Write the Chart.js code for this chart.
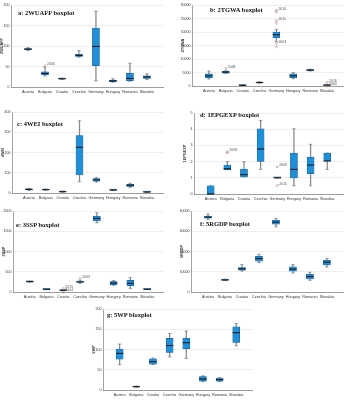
<!DOCTYPE html>
<html>
<head>
<meta charset="utf-8">
<script src="https://cdn.jsdelivr.net/npm/chart.js@4.4.0/dist/chart.umd.min.js"></script>
<style>
body { margin: 0; background: #fff; width: 349px; height: 400px; position: relative; overflow: hidden; }
canvas { position: absolute; }
.t { position: absolute; font: bold 6.5px "Liberation Serif"; line-height: 1; white-space: nowrap; color: #111; }
</style>
</head>
<body>
<canvas id="ca" width="169" height="96" style="left:0;top:0"></canvas>
<canvas id="cb" width="168" height="95" style="left:181px;top:0"></canvas>
<canvas id="cc" width="168" height="95" style="left:1px;top:107px"></canvas>
<canvas id="cd" width="166" height="95" style="left:183px;top:108px"></canvas>
<canvas id="ce" width="167" height="95" style="left:2px;top:206px"></canvas>
<canvas id="cf" width="169" height="95" style="left:180px;top:206px"></canvas>
<canvas id="cg" width="166" height="95" style="left:92px;top:304px"></canvas>

<div class="t" style="left:18px;top:10px">a: 2WUAFF boxplot</div>
<div class="t" style="left:210px;top:7px">b: 2TGWA boxplot</div>
<div class="t" style="left:17px;top:121px">c: 4WEI boxplot</div>
<div class="t" style="left:200px;top:112px">d: 1EPGEXP boxplot</div>
<div class="t" style="left:16px;top:222px">e: 3SSP boxplot</div>
<div class="t" style="left:200px;top:221px">f: 5RGDP boxplot</div>
<div class="t" style="left:107px;top:312px">g: 5WP bloxplot</div>

<script>
// boxes are [min, q1, median, q3, max], outliers are [country index, value, label]
var countries = ['Austria', 'Bulgaria', 'Croatia', 'Czechia', 'Germany', 'Hungary', 'Romania', 'Slovakia'];

var wuaffTicks = [0, 50, 100, 150, 200];
var wuaffBox = [
  [89, 91, 92.5, 94, 96],
  [27, 30, 33, 37, 48],
  [18.5, 19.5, 20, 21, 21.5],
  [73, 74.5, 77, 80, 89],
  [15, 52, 99, 144, 185],
  [11.5, 13, 15, 17, 20],
  [14, 15.5, 21, 33.5, 58],
  [18, 21, 24.5, 27, 32]
];
var wuaffOut = [[1, 52, '2006']];

var tgwaTicks = [0, 5000, 10000, 15000, 20000, 25000, 30000];
var tgwaBox = [
  [2600, 3100, 3800, 4500, 5500],
  [4700, 4800, 5150, 5400, 5650],
  [150, 200, 250, 300, 350],
  [1050, 1100, 1300, 1450, 1550],
  [16500, 17900, 19000, 20000, 21000],
  [2700, 3100, 3800, 4500, 5000],
  [5550, 5650, 5900, 6100, 6200],
  [150, 200, 300, 450, 550]
];
var tgwaOut = [[1, 6500, '2008'], [4, 28100, '2016'], [4, 27500, ''], [4, 24200, '2011'], [4, 23200, ''],
  [4, 15850, '2003'], [4, 14600, ''], [7, 1300, '2016'], [7, 0, '2004']];

var weiTicks = [0, 100, 200, 300, 400];
var weiBox = [
  [13, 15, 18, 21, 23],
  [14, 15, 16.5, 18, 19],
  [4, 5, 6.5, 8, 9],
  [56, 89, 226, 284, 357],
  [54, 58, 64, 71, 76],
  [12, 13.5, 15, 16.5, 18],
  [28, 33, 38, 43, 48],
  [3, 4, 5, 6, 7]
];
var weiOut = [];

var epgexpTicks = [0, 1, 2, 3, 4, 5];
var epgexpBox = [
  [0, 0, 0, 0.5, 0.5],
  [1.5, 1.5, 1.56, 1.79, 2.0],
  [1.05, 1.05, 1.2, 1.54, 2.0],
  [1.52, 2.02, 2.78, 4.03, 4.55],
  [1, 1, 1, 1, 1],
  [0.51, 1.0, 1.52, 2.53, 4.03],
  [0.51, 1.25, 1.79, 2.28, 3.07],
  [1.52, 2.04, 2.04, 2.53, 2.53]
];
var epgexpOut = [[1, 2.6, '2008'], [1, 2.55, ''], [4, 1.67, '2009'], [4, 0.53, '2015']];

var sspTicks = [0, 500, 1000, 1500, 2000];
var sspBox = [
  [245, 250, 256, 262, 267],
  [60, 63, 66, 69, 72],
  [32, 37, 41, 45, 50],
  [215, 240, 248, 256, 285],
  [1711, 1760, 1818, 1876, 1958],
  [165, 182, 223, 256, 285],
  [91, 157, 215, 289, 355],
  [60, 63, 66, 69, 72]
];
var sspOut = [[2, 85, '2015'], [2, 0, '2004'], [3, 330, '2003']];

var rgdpTicks = [0, 10000, 20000, 30000, 40000];
var rgdpBox = [
  [35870, 36530, 37000, 37520, 38510],
  [5620, 5800, 5950, 6116, 6400],
  [10413, 10744, 11400, 12066, 13550],
  [14545, 15206, 16530, 17686, 18680],
  [32230, 33554, 34545, 35537, 36360],
  [9420, 10248, 11300, 12397, 13550],
  [5785, 6446, 7600, 8760, 9750],
  [12400, 13390, 14710, 15700, 16530]
];
var rgdpOut = [];

var wpTicks = [0, 50, 100, 150, 200];
var wpBox = [
  [62.5, 76, 90.5, 101, 113.6],
  [7, 7.5, 8.2, 9, 9.5],
  [63, 64, 70, 77, 79],
  [82, 93, 110, 127.6, 140],
  [78, 102, 117, 127.6, 145.7],
  [20.5, 22, 27, 33, 35],
  [21, 22, 25.5, 29.6, 30.5],
  [109.5, 117.7, 141.6, 156, 164.6]
];
var wpOut = [];

Chart.defaults.font.family = 'Liberation Sans';
Chart.defaults.color = '#333';

// small year labels next to the outlier points
var outlierLabels = {
  id: 'outlierLabels',
  afterDatasetsDraw: function(chart) {
    var meta = chart.getDatasetMeta(0);
    var ds = chart.data.datasets[0];
    var ctx = chart.ctx;
    ctx.save();
    ctx.font = '3.5px "Liberation Sans"';
    ctx.fillStyle = '#555';
    ctx.textBaseline = 'middle';
    meta.data.forEach(function(pt, i) {
      if (ds.labels[i]) ctx.fillText(ds.labels[i], pt.x + 2, pt.y - 1.5);
    });
    ctx.restore();
  }
};

function boxplot(id, yName, ticks, box, out) {
  var whisk = box.map(function(b, i) { return {x: i, y: [b[0], b[4]]}; });
  var caps = [];
  box.forEach(function(b, i) {
    caps.push({x: i, y: b[0]});
    caps.push({x: i, y: b[4]});
  });
  var boxes = box.map(function(b, i) { return {x: i, y: [b[1], b[3]]}; });
  var medians = box.map(function(b, i) { return {x: i, y: b[2]}; });
  var outliers = out.map(function(o) { return {x: o[0], y: o[1]}; });

  new Chart(document.getElementById(id), {
    type: 'bar',
    data: {
      datasets: [
        {
          type: 'line', data: outliers, labels: out.map(function(o) { return o[2]; }),
          showLine: false, pointStyle: 'circle', pointRadius: 1, pointBorderWidth: 0.5,
          pointBorderColor: '#a07070', pointBackgroundColor: 'rgba(0,0,0,0)', order: 0, clip: false
        },
        {
          type: 'line', data: medians, showLine: false, pointStyle: 'line',
          pointRadius: 3.6, pointBorderWidth: 1.1, pointBorderColor: '#151a22', order: 1, clip: false
        },
        {
          type: 'bar', data: boxes, grouped: false, barThickness: 7,
          backgroundColor: '#1f8fd8', borderColor: '#1d4f78', borderWidth: 0.5,
          borderSkipped: false, minBarLength: 1, order: 2
        },
        {
          type: 'line', data: caps, showLine: false, pointStyle: 'line',
          pointRadius: 1.8, pointBorderWidth: 0.6, pointBorderColor: '#777', order: 3, clip: false
        },
        {
          type: 'bar', data: whisk, grouped: false, barThickness: 0.6,
          backgroundColor: '#888', order: 4
        }
      ]
    },
    options: {
      responsive: false,
      animation: false,
      layout: { padding: { top: 5, right: 1 } },
      plugins: { legend: { display: false }, tooltip: { enabled: false } },
      scales: {
        x: {
          type: 'linear', min: -1, max: 8, offset: false,
          afterFit: function(s) { s.height = 9; },
          afterBuildTicks: function(s) {
            s.ticks = countries.map(function(c, i) { return {value: i}; });
          },
          ticks: {
            autoSkip: false, maxRotation: 0, padding: 2.5,
            font: { size: 3.8 },
            callback: function(v) { return countries[v] || ''; }
          },
          grid: { display: false, drawTicks: false, offset: false },
          border: { color: '#666', width: 0.6 }
        },
        y: {
          min: ticks[0], max: ticks[ticks.length - 1],
          afterFit: function(s) { s.width = 11; },
          afterBuildTicks: function(s) {
            s.ticks = ticks.map(function(t) { return {value: t}; });
          },
          ticks: {
            padding: 1.5, font: { size: 3.6 },
            callback: function(v) { return String(v); }
          },
          title: { display: true, text: yName, padding: 0, font: { size: 3.8, weight: 'bold' } },
          grid: { color: '#e4e4e4', lineWidth: 0.6, drawTicks: false },
          border: { color: '#666', width: 0.6 }
        }
      }
    },
    plugins: [outlierLabels]
  });
}

boxplot('ca', '2WUAFF', wuaffTicks, wuaffBox, wuaffOut);
boxplot('cb', '2TGWA', tgwaTicks, tgwaBox, tgwaOut);
boxplot('cc', '4WEI', weiTicks, weiBox, weiOut);
boxplot('cd', '1EPGEXP', epgexpTicks, epgexpBox, epgexpOut);
boxplot('ce', '3SSP', sspTicks, sspBox, sspOut);
boxplot('cf', '5RGDP', rgdpTicks, rgdpBox, rgdpOut);
boxplot('cg', '5WP', wpTicks, wpBox, wpOut);
</script>
</body>
</html>
